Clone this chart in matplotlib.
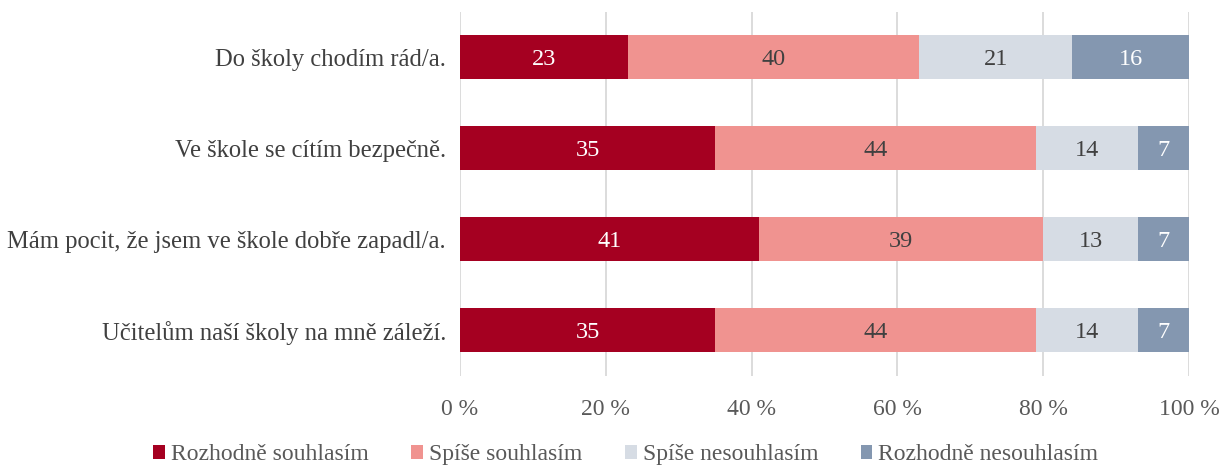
import matplotlib.pyplot as plt
import numpy as np

categories = ["Do školy chodím rád/a.", "Ve škole se cítím bezpečně.",
              "Mám pocit, že jsem ve škole dobře zapadl/a.",
              "Učitelům naší školy na mně záleží."]
series_names = ["Rozhodně souhlasím", "Spíše souhlasím", "Spíše nesouhlasím", "Rozhodně nesouhlasím"]
values = [
    [23, 35, 41, 35],
    [40, 44, 39, 44],
    [21, 14, 13, 14],
    [16, 7, 7, 7],
]
colors = ["#A50021", "#F09390", "#D6DCE4", "#8497B0"]
label_colors = ["white", "#404040", "#404040", "white"]

plt.rcParams['font.family'] = ['Liberation Serif', 'DejaVu Serif']

fig = plt.figure(figsize=(12.2, 4.68), dpi=100)
ax = fig.add_axes([0.377, 0.1976, 0.5976, 0.7778])

y = np.arange(len(categories))
left = np.zeros(len(categories))
for name, vals, c, lc in zip(series_names, values, colors, label_colors):
    ax.barh(y, vals, left=left, height=0.48, color=c, label=name, zorder=3)
    for yi, v, l in zip(y, vals, left):
        ax.text(l + v / 2, yi, str(v), ha='center', va='center_baseline', color=lc,
                fontsize=17.5, zorder=4)
    left = left + np.array(vals)

ax.set_ylim(len(categories) - 0.5, -0.5)
ax.set_xlim(0, 100)
ax.set_yticks(y)
ax.set_yticklabels(categories, fontsize=17.7, color="#404040")
ax.set_xticks(np.arange(0, 101, 20))
ax.set_xticklabels([f"{t} %" for t in range(0, 101, 20)], fontsize=17, color="#595959")
ax.tick_params(axis='both', length=0)
ax.tick_params(axis='x', pad=17)
ax.tick_params(axis='y', pad=10)
ax.grid(axis='x', color="#D9D9D9", linewidth=1.3, zorder=0)
for s in ax.spines.values():
    s.set_visible(False)

fig.legend(loc='center', bbox_to_anchor=(0.513, 0.028), ncol=4, frameon=False,
           fontsize=17, handlelength=0.5, handleheight=0.5, handletextpad=0.25,
           columnspacing=1.8, labelcolor="#595959")

fig.savefig("out.png", dpi=100)
